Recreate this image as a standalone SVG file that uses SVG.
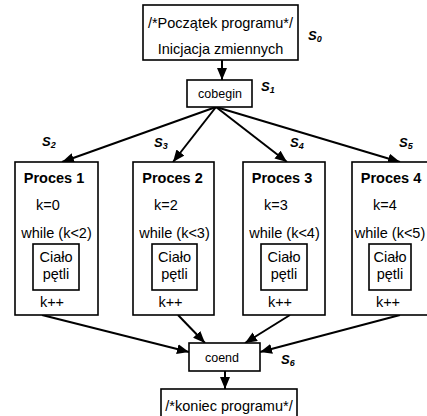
<svg xmlns="http://www.w3.org/2000/svg" width="427" height="416" viewBox="0 0 427 416">
<style>
.box{fill:#fff;stroke:#000;stroke-width:1.6}
.t{font-family:"Liberation Sans",Arial,sans-serif;font-size:14.5px;fill:#000;text-anchor:middle}
.ts{font-family:"Liberation Sans",Arial,sans-serif;font-size:12.5px;fill:#000;text-anchor:middle}
.tb{font-family:"Liberation Sans",Arial,sans-serif;font-size:14.5px;font-weight:bold;fill:#000;text-anchor:middle}
.s{font-family:"Liberation Sans",Arial,sans-serif;font-size:13px;font-weight:bold;font-style:italic;fill:#000}
.sub{font-size:9px}
.c{stroke:#000;stroke-width:2;fill:none;marker-end:url(#ah)}
</style>
<defs>
<marker id="ah" viewBox="0 0 12 10" refX="12" refY="5" markerWidth="12" markerHeight="10" markerUnits="userSpaceOnUse" orient="auto">
<path d="M0,0 L12,5 L0,10 z" fill="#000"/>
</marker>
</defs>
<g id="connectors">
<line class="c" x1="222" y1="60" x2="222" y2="80"/>
<line class="c" x1="216" y1="107" x2="62" y2="162"/>
<line class="c" x1="216" y1="107" x2="173" y2="162"/>
<line class="c" x1="216" y1="107" x2="287" y2="162"/>
<line class="c" x1="216" y1="107" x2="400" y2="162"/>
<line class="c" x1="42" y1="315" x2="189" y2="352"/>
<line class="c" x1="178" y1="315" x2="205" y2="343"/>
<line class="c" x1="290" y1="315" x2="245" y2="343"/>
<line class="c" x1="400" y1="315" x2="260" y2="352"/>
<line class="c" x1="225" y1="371" x2="225" y2="389"/>
</g>
<g id="start">
<rect class="box" x="143" y="5" width="155" height="55"/>
<text class="t" x="220.5" y="28">/*Początek programu*/</text>
<text class="t" x="220.5" y="54">Inicjacja zmiennych</text>
</g>
<g id="cobegin">
<rect class="box" x="187" y="80" width="65" height="27"/>
<text class="ts" x="220" y="98">cobegin</text>
</g>
<g id="proces1">
<rect class="box" x="15" y="162" width="83" height="153"/>
<text class="tb" x="54" y="183">Proces 1</text>
<text class="t" x="48" y="210">k=0</text>
<text class="t" x="56.5" y="238">while (k&lt;2)</text>
<rect class="box" x="33" y="244" width="46" height="46"/>
<text class="t" x="56" y="262">Ciało</text>
<text class="t" x="56" y="279">pętli</text>
<text class="t" x="52" y="307">k++</text>
</g>
<g id="proces2">
<rect class="box" x="133" y="162" width="81" height="153"/>
<text class="tb" x="172.5" y="183">Proces 2</text>
<text class="t" x="166" y="210">k=2</text>
<text class="t" x="174.5" y="238">while (k&lt;3)</text>
<rect class="box" x="152" y="244" width="45" height="46"/>
<text class="t" x="174.5" y="262">Ciało</text>
<text class="t" x="174.5" y="279">pętli</text>
<text class="t" x="170.5" y="307">k++</text>
</g>
<g id="proces3">
<rect class="box" x="243" y="162" width="82" height="153"/>
<text class="tb" x="282" y="183">Proces 3</text>
<text class="t" x="276" y="210">k=3</text>
<text class="t" x="284.5" y="238">while (k&lt;4)</text>
<rect class="box" x="261" y="244" width="46" height="46"/>
<text class="t" x="284" y="262">Ciało</text>
<text class="t" x="284" y="279">pętli</text>
<text class="t" x="280" y="307">k++</text>
</g>
<g id="proces4">
<rect class="box" x="352" y="162" width="83" height="153"/>
<text class="tb" x="391" y="183">Proces 4</text>
<text class="t" x="385" y="210">k=4</text>
<text class="t" x="390" y="238">while (k&lt;5)</text>
<rect class="box" x="369" y="244" width="42" height="46"/>
<text class="t" x="390" y="262">Ciało</text>
<text class="t" x="390" y="279">pętli</text>
<text class="t" x="388" y="307">k++</text>
</g>
<g id="coend">
<rect class="box" x="189" y="343" width="71" height="28"/>
<text class="ts" x="222" y="362">coend</text>
</g>
<g id="end">
<rect class="box" x="161" y="389" width="136" height="35"/>
<text class="t" x="229" y="411">/*koniec programu*/</text>
</g>
<g id="labels">
<text class="s" x="308" y="40">S<tspan class="sub" dy="2">0</tspan></text>
<text class="s" x="261" y="91">S<tspan class="sub" dy="2">1</tspan></text>
<text class="s" x="42" y="146">S<tspan class="sub" dy="2">2</tspan></text>
<text class="s" x="154" y="147">S<tspan class="sub" dy="2">3</tspan></text>
<text class="s" x="290" y="147">S<tspan class="sub" dy="2">4</tspan></text>
<text class="s" x="399" y="147">S<tspan class="sub" dy="2">5</tspan></text>
<text class="s" x="281" y="364">S<tspan class="sub" dy="2">6</tspan></text>
</g>
</svg>
